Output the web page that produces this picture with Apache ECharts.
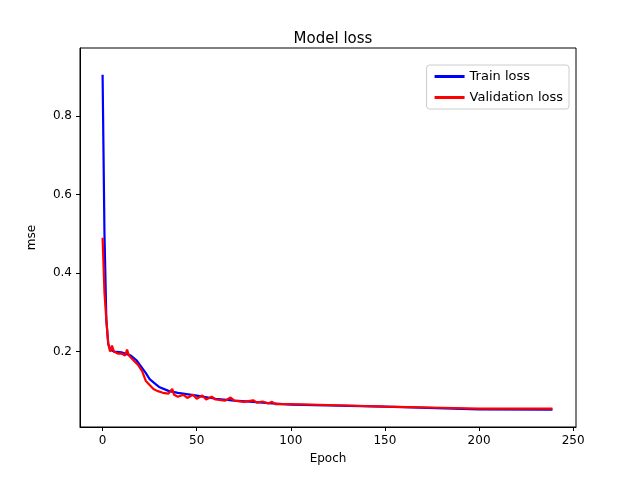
<!DOCTYPE html>
<html>
<head>
  <meta charset="UTF-8">
  <title>Model loss</title>
  <script src="https://cdn.jsdelivr.net/npm/echarts@6/dist/echarts.min.js"></script>
</head>
<body style="margin:0">
  <div id="chart" style="width:640px; height:480px;"></div>
  <script>
    var trainEpochs = [0, 1, 2, 3, 4, 6, 10, 15, 18, 20, 23, 25, 28, 30, 35, 40, 50, 60, 70, 80, 90, 100, 150, 200, 239];
    var trainLoss = [0.905, 0.5, 0.28, 0.22, 0.205, 0.2, 0.198, 0.19, 0.178, 0.165, 0.145, 0.13, 0.118, 0.11, 0.1, 0.095, 0.088, 0.08, 0.075, 0.072, 0.068, 0.065, 0.06, 0.053, 0.052];
    var valEpochs = [0, 1, 2, 3, 4, 5, 6, 7, 8, 9, 10, 11, 12, 13, 14, 15, 17, 19, 21, 23, 25, 27, 29, 32, 35, 37, 38, 40, 43, 45, 48, 50, 53, 55, 58, 60, 65, 68, 70, 75, 80, 82, 85, 88, 90, 92, 100, 120, 150, 180, 200, 220, 239];
    var valLoss = [0.49, 0.35, 0.28, 0.22, 0.2, 0.215, 0.2, 0.205, 0.195, 0.2, 0.195, 0.2, 0.19, 0.205, 0.19, 0.188, 0.175, 0.165, 0.15, 0.125, 0.115, 0.105, 0.1, 0.095, 0.093, 0.105, 0.09, 0.085, 0.09, 0.082, 0.09, 0.08, 0.088, 0.078, 0.085, 0.078, 0.075, 0.083, 0.075, 0.072, 0.076, 0.07, 0.073, 0.068, 0.072, 0.066, 0.066, 0.064, 0.06, 0.057, 0.055, 0.055, 0.055];
    var xTicks = [0, 50, 100, 150, 200, 250];
    var yTicks = [0.2, 0.4, 0.6, 0.8];

    function pairs(xs, ys) {
      return xs.map(function (x, i) { return [x, ys[i]]; });
    }

    var chart = echarts.init(document.getElementById('chart'));
    var axisCommon = {
      axisLine: {show: true, onZero: false, lineStyle: {color: '#000'}},
      axisTick: {show: true, inside: false, length: 4, lineStyle: {color: '#000'}},
      axisLabel: {color: '#000', fontFamily: 'DejaVu Sans', fontSize: 12},
      splitLine: {show: false},
      nameTextStyle: {color: '#000', fontFamily: 'DejaVu Sans', fontSize: 12}
    };
    chart.setOption({
      animation: false,
      title: {
        text: 'Model loss', left: 328, top: 27, textAlign: 'center',
        textStyle: {fontFamily: 'DejaVu Sans', fontSize: 15, fontWeight: 'normal', color: '#000'}
      },
      legend: {
        right: 71, top: 65, orient: 'vertical', itemWidth: 30, itemHeight: 3, itemGap: 8,
        borderColor: '#ccc', borderWidth: 1, borderRadius: 3, padding: [5, 6, 5, 8],
        textStyle: {fontFamily: 'DejaVu Sans', fontSize: 13, color: '#000'},
        data: [{name: 'Train loss', icon: 'rect'}, {name: 'Validation loss', icon: 'rect'}]
      },
      grid: {left: 80, right: 64, top: 48, bottom: 53, show: true, borderColor: '#000', borderWidth: 1},
      xAxis: Object.assign({}, axisCommon, {
        type: 'value', min: -12, max: 251.5, name: 'Epoch', nameLocation: 'middle', nameGap: 26,
        axisLabel: Object.assign({}, axisCommon.axisLabel, {
          customValues: xTicks, showMinLabel: true, showMaxLabel: true
        }),
        axisTick: Object.assign({}, axisCommon.axisTick, {customValues: xTicks})
      }),
      yAxis: Object.assign({}, axisCommon, {
        type: 'value', min: 0.008, max: 0.973, name: 'mse', nameLocation: 'middle', nameGap: 42,
        axisLabel: Object.assign({}, axisCommon.axisLabel, {
          customValues: yTicks,
          formatter: function (v) { return v.toFixed(1); }
        }),
        axisTick: Object.assign({}, axisCommon.axisTick, {customValues: yTicks})
      }),
      series: [
        {name: 'Train loss', type: 'line', data: pairs(trainEpochs, trainLoss), showSymbol: false,
          itemStyle: {color: '#0000ff'}, lineStyle: {color: '#0000ff', width: 2.2}},
        {name: 'Validation loss', type: 'line', data: pairs(valEpochs, valLoss), showSymbol: false,
          itemStyle: {color: '#ff0000'}, lineStyle: {color: '#ff0000', width: 2.2}}
      ]
    });
  </script>
</body>
</html>
